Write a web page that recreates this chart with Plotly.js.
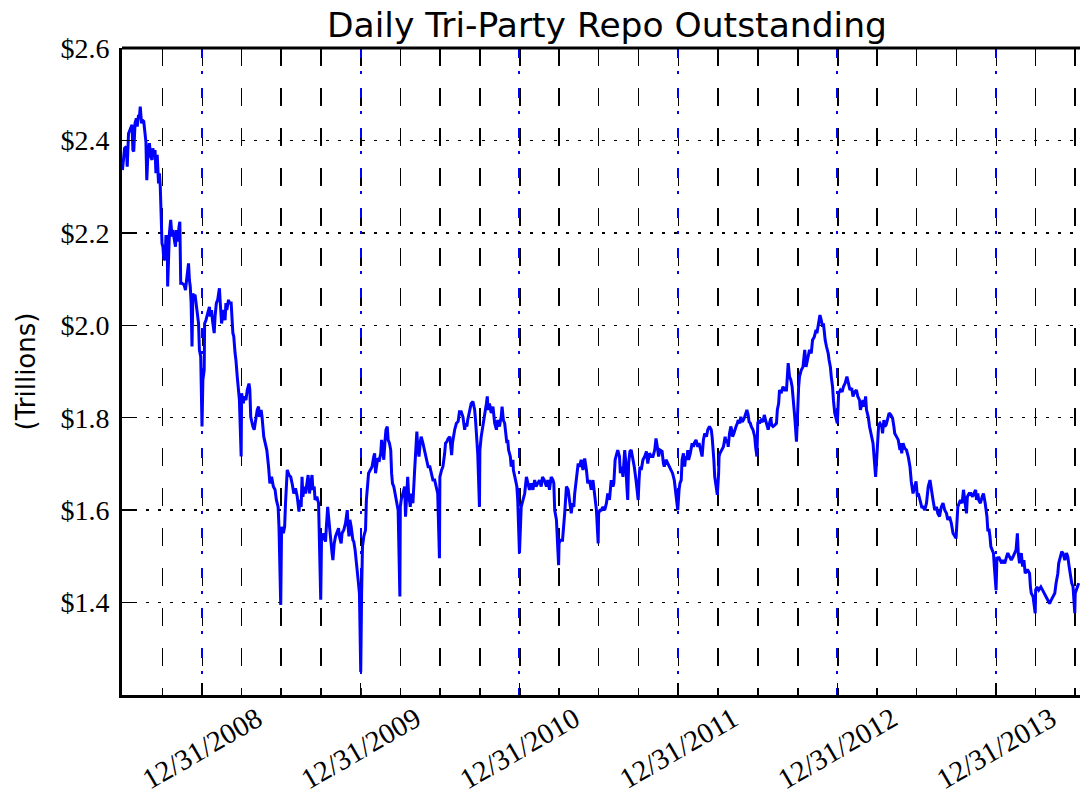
<!DOCTYPE html>
<html>
<head>
<meta charset="utf-8">
<script src="https://cdn.plot.ly/plotly-3.0.1.min.js"></script>
<style>html,body{margin:0;padding:0;background:#fff;}#chart{width:1080px;height:802px;}</style>
</head>
<body>
<div id="chart"></div>
<script>
// Daily tri-party repo outstanding ($ trillions)
const dates = [
'2008-07-01','2008-07-06','2008-07-10','2008-07-12','2008-07-15','2008-07-20','2008-07-23','2008-07-25','2008-07-27','2008-07-30',
'2008-08-02','2008-08-04','2008-08-07','2008-08-09','2008-08-11','2008-08-14','2008-08-16','2008-08-19','2008-08-22','2008-08-24',
'2008-08-26','2008-08-29','2008-09-01','2008-09-04','2008-09-07','2008-09-09','2008-09-11','2008-09-14','2008-09-16','2008-09-19',
'2008-09-22','2008-09-24','2008-09-26','2008-09-30','2008-10-02','2008-10-04','2008-10-07','2008-10-09','2008-10-12','2008-10-13',
'2008-10-17','2008-10-20','2008-10-23','2008-10-25','2008-10-29','2008-10-31','2008-11-02','2008-11-05','2008-11-08','2008-11-10',
'2008-11-12','2008-11-15','2008-11-20','2008-11-23','2008-11-25','2008-11-29','2008-11-30','2008-12-02','2008-12-04','2008-12-06',
'2008-12-08','2008-12-10','2008-12-12','2008-12-15','2008-12-17','2008-12-21','2008-12-23','2008-12-25','2008-12-28','2008-12-31',
'2009-01-02','2009-01-05','2009-01-06','2009-01-09','2009-01-13','2009-01-17','2009-01-19','2009-01-22','2009-01-24','2009-01-28',
'2009-01-30','2009-02-02','2009-02-05','2009-02-09','2009-02-11','2009-02-14','2009-02-16','2009-02-19','2009-02-22','2009-02-24',
'2009-02-26','2009-03-02','2009-03-04','2009-03-08','2009-03-12','2009-03-14','2009-03-17','2009-03-19','2009-03-22','2009-03-25',
'2009-03-27','2009-03-31','2009-04-01','2009-04-05','2009-04-07','2009-04-11','2009-04-14','2009-04-18','2009-04-20','2009-04-22',
'2009-04-25','2009-04-27','2009-04-30','2009-05-02','2009-05-07','2009-05-10','2009-05-12','2009-05-16','2009-05-18','2009-05-22',
'2009-05-25','2009-05-29','2009-06-02','2009-06-05','2009-06-09','2009-06-13','2009-06-17','2009-06-20','2009-06-24','2009-06-26',
'2009-06-30','2009-07-02','2009-07-06','2009-07-09','2009-07-11','2009-07-15','2009-07-19','2009-07-23','2009-07-27','2009-07-30',
'2009-08-03','2009-08-07','2009-08-11','2009-08-13','2009-08-16','2009-08-18','2009-08-20','2009-08-23','2009-08-26','2009-08-30',
'2009-09-01','2009-09-04','2009-09-06','2009-09-10','2009-09-12','2009-09-15','2009-09-17','2009-09-21','2009-09-25','2009-09-30',
'2009-10-02','2009-10-05','2009-10-07','2009-10-11','2009-10-13','2009-10-16','2009-10-18','2009-10-21','2009-10-24','2009-10-26',
'2009-10-28','2009-10-31','2009-11-03','2009-11-06','2009-11-10','2009-11-12','2009-11-16','2009-11-18','2009-11-22','2009-11-26',
'2009-11-28','2009-11-30','2009-12-02','2009-12-04','2009-12-06','2009-12-09','2009-12-13','2009-12-15','2009-12-18','2009-12-21',
'2009-12-25','2009-12-28','2009-12-31','2010-01-02','2010-01-04','2010-01-07','2010-01-11','2010-01-13','2010-01-16','2010-01-18',
'2010-01-22','2010-01-26','2010-01-30','2010-02-01','2010-02-03','2010-02-06','2010-02-08','2010-02-12','2010-02-15','2010-02-17',
'2010-02-19','2010-02-22','2010-02-25','2010-02-27','2010-03-02','2010-03-04','2010-03-07','2010-03-10','2010-03-12','2010-03-14',
'2010-03-17','2010-03-20','2010-03-23','2010-03-25','2010-03-27','2010-03-31','2010-04-01','2010-04-03','2010-04-07','2010-04-11',
'2010-04-13','2010-04-16','2010-04-18','2010-04-20','2010-04-24','2010-04-26','2010-04-30','2010-05-04','2010-05-06','2010-05-09',
'2010-05-11','2010-05-14','2010-05-17','2010-05-19','2010-05-23','2010-05-27','2010-05-31','2010-06-04','2010-06-08','2010-06-12',
'2010-06-15','2010-06-19','2010-06-23','2010-06-26','2010-06-30','2010-07-01','2010-07-05','2010-07-08','2010-07-12','2010-07-14',
'2010-07-17','2010-07-20','2010-07-24','2010-07-28','2010-07-30','2010-08-02','2010-08-04','2010-08-08','2010-08-12','2010-08-15',
'2010-08-19','2010-08-23','2010-08-27','2010-08-29','2010-09-01','2010-09-03','2010-09-07','2010-09-11','2010-09-15','2010-09-19',
'2010-09-21','2010-09-24','2010-09-26','2010-09-30','2010-10-01','2010-10-04','2010-10-08','2010-10-12','2010-10-16','2010-10-18',
'2010-10-20','2010-10-23','2010-10-27','2010-10-31','2010-11-04','2010-11-08','2010-11-11','2010-11-15','2010-11-19','2010-11-21',
'2010-11-24','2010-11-27','2010-11-29','2010-12-02','2010-12-04','2010-12-06','2010-12-10','2010-12-12','2010-12-16','2010-12-17',
'2010-12-22','2010-12-25','2010-12-27','2010-12-31','2011-01-04','2011-01-08','2011-01-12','2011-01-16','2011-01-19','2011-01-23',
'2011-01-27','2011-01-31','2011-02-04','2011-02-07','2011-02-11','2011-02-15','2011-02-19','2011-02-22','2011-02-26','2011-03-03',
'2011-03-06','2011-03-10','2011-03-14','2011-03-18','2011-03-20','2011-03-22','2011-03-26','2011-03-31','2011-04-01','2011-04-04',
'2011-04-09','2011-04-12','2011-04-14','2011-04-18','2011-04-22','2011-04-25','2011-04-29','2011-05-02','2011-05-05','2011-05-07',
'2011-05-11','2011-05-15','2011-05-18','2011-05-22','2011-05-26','2011-05-30','2011-06-03','2011-06-06','2011-06-10','2011-06-14',
'2011-06-18','2011-06-22','2011-06-26','2011-06-30','2011-07-01','2011-07-04','2011-07-07','2011-07-11','2011-07-15','2011-07-19',
'2011-07-22','2011-07-26','2011-07-30','2011-08-03','2011-08-05','2011-08-08','2011-08-11','2011-08-14','2011-08-18','2011-08-20',
'2011-08-23','2011-08-26','2011-08-30','2011-09-01','2011-09-04','2011-09-06','2011-09-08','2011-09-11','2011-09-14','2011-09-17',
'2011-09-21','2011-09-25','2011-09-30','2011-10-02','2011-10-04','2011-10-07','2011-10-11','2011-10-15','2011-10-19','2011-10-22',
'2011-10-26','2011-10-30','2011-11-03','2011-11-07','2011-11-10','2011-11-13','2011-11-16','2011-11-19','2011-11-24','2011-11-27',
'2011-11-29','2011-12-03','2011-12-07','2011-12-11','2011-12-14','2011-12-18','2011-12-22','2011-12-30','2012-01-02','2012-01-04',
'2012-01-07','2012-01-09','2012-01-12','2012-01-15','2012-01-17','2012-01-20','2012-01-22','2012-01-24','2012-01-28','2012-01-30',
'2012-02-01','2012-02-04','2012-02-06','2012-02-10','2012-02-14','2012-02-17','2012-02-21','2012-02-24','2012-02-27','2012-03-01',
'2012-03-05','2012-03-08','2012-03-12','2012-03-16','2012-03-18','2012-03-20','2012-03-22','2012-03-24','2012-03-30','2012-04-02',
'2012-04-03','2012-04-05','2012-04-09','2012-04-13','2012-04-17','2012-04-19','2012-04-22','2012-04-24','2012-04-27','2012-04-30',
'2012-05-02','2012-05-04','2012-05-07','2012-05-09','2012-05-12','2012-05-15','2012-05-17','2012-05-21','2012-05-23','2012-05-26',
'2012-05-29','2012-06-01','2012-06-03','2012-06-06','2012-06-09','2012-06-11','2012-06-14','2012-06-16','2012-06-20','2012-06-24',
'2012-06-26','2012-06-29','2012-07-01','2012-07-03','2012-07-05','2012-07-09','2012-07-13','2012-07-16','2012-07-19','2012-07-22',
'2012-07-25','2012-07-28','2012-07-31','2012-08-02','2012-08-05','2012-08-09','2012-08-13','2012-08-15','2012-08-18','2012-08-20',
'2012-08-24','2012-08-28','2012-09-01','2012-09-05','2012-09-07','2012-09-09','2012-09-12','2012-09-15','2012-09-18','2012-09-21',
'2012-09-24','2012-09-28','2012-10-01','2012-10-03','2012-10-05','2012-10-09','2012-10-13','2012-10-15','2012-10-17','2012-10-20',
'2012-10-24','2012-10-28','2012-11-01','2012-11-04','2012-11-08','2012-11-12','2012-11-14','2012-11-16','2012-11-19','2012-11-21',
'2012-11-24','2012-11-27','2012-11-29','2012-12-01','2012-12-03','2012-12-06','2012-12-08','2012-12-10','2012-12-12','2012-12-15',
'2012-12-17','2012-12-20','2012-12-22','2012-12-25','2012-12-31','2013-01-02','2013-01-03','2013-01-07','2013-01-11','2013-01-14',
'2013-01-18','2013-01-22','2013-01-24','2013-01-27','2013-01-29','2013-02-02','2013-02-05','2013-02-09','2013-02-13','2013-02-16',
'2013-02-20','2013-02-22','2013-02-25','2013-02-28','2013-03-03','2013-03-06','2013-03-08','2013-03-12','2013-03-15','2013-03-19',
'2013-03-23','2013-03-29','2013-04-01','2013-04-03','2013-04-05','2013-04-08','2013-04-12','2013-04-14','2013-04-17','2013-04-19',
'2013-04-22','2013-04-25','2013-04-29','2013-05-03','2013-05-07','2013-05-10','2013-05-12','2013-05-16','2013-05-20','2013-05-24',
'2013-05-26','2013-05-28','2013-05-31','2013-06-04','2013-06-08','2013-06-12','2013-06-16','2013-06-19','2013-06-23','2013-06-27',
'2013-06-30','2013-07-03','2013-07-05','2013-07-09','2013-07-13','2013-07-16','2013-07-20','2013-07-24','2013-07-28','2013-08-01',
'2013-08-03','2013-08-05','2013-08-08','2013-08-12','2013-08-16','2013-08-19','2013-08-23','2013-08-27','2013-08-31','2013-09-04',
'2013-09-08','2013-09-11','2013-09-15','2013-09-19','2013-09-23','2013-09-30','2013-10-01','2013-10-02','2013-10-04','2013-10-07',
'2013-10-10','2013-10-14','2013-10-17','2013-10-20','2013-10-24','2013-10-26','2013-10-30','2013-11-03','2013-11-07','2013-11-10',
'2013-11-14','2013-11-16','2013-11-19','2013-11-21','2013-11-25','2013-11-29','2013-12-02','2013-12-06','2013-12-10','2013-12-12',
'2013-12-15','2013-12-17','2013-12-19','2013-12-22','2013-12-25','2013-12-27','2013-12-31','2014-01-02','2014-01-03','2014-01-06',
'2014-01-09','2014-01-13','2014-01-16','2014-01-20','2014-01-24','2014-01-27','2014-01-31','2014-02-04','2014-02-08','2014-02-12',
'2014-02-15','2014-02-18','2014-02-20','2014-02-23','2014-02-27','2014-03-02','2014-03-05','2014-03-08','2014-03-11','2014-03-14',
'2014-03-18','2014-03-20','2014-03-22','2014-03-26','2014-03-31','2014-04-01','2014-04-04','2014-04-08','2014-04-13','2014-04-17',
'2014-04-21','2014-04-25','2014-04-29','2014-05-03','2014-05-07','2014-05-11','2014-05-15','2014-05-18','2014-05-22','2014-05-24',
'2014-05-28','2014-05-31','2014-06-03','2014-06-07','2014-06-11','2014-06-14','2014-06-17','2014-06-20','2014-06-23','2014-06-26',
'2014-06-30','2014-07-01','2014-07-05','2014-07-09'
];
const outstanding = [
2.336,2.383,2.387,2.343,2.415,2.430,2.434,2.379,2.376,2.437,
2.448,2.430,2.455,2.451,2.473,2.437,2.444,2.441,2.401,2.397,
2.314,2.379,2.394,2.365,2.358,2.383,2.369,2.379,2.329,2.369,
2.307,2.329,2.300,2.177,2.170,2.145,2.141,2.192,2.192,2.084,
2.199,2.228,2.192,2.206,2.181,2.170,2.206,2.181,2.213,2.224,
2.091,2.091,2.087,2.076,2.094,2.120,2.134,2.098,2.084,2.048,
1.954,2.069,2.062,2.066,2.048,2.019,2.004,1.947,1.932,1.781,
1.882,1.903,2.004,2.011,2.026,2.040,2.019,2.033,2.011,1.983,
2.019,2.048,2.055,2.080,2.048,2.004,2.019,2.033,2.011,2.048,
2.033,2.055,2.048,2.048,1.983,1.976,1.940,1.925,1.889,1.860,
1.838,1.716,1.853,1.831,1.846,1.838,1.860,1.874,1.860,1.802,
1.788,1.781,1.774,1.788,1.817,1.824,1.802,1.817,1.802,1.759,
1.745,1.730,1.694,1.658,1.672,1.651,1.644,1.622,1.607,1.564,
1.395,1.564,1.550,1.564,1.615,1.687,1.676,1.672,1.654,1.636,
1.647,1.629,1.597,1.622,1.607,1.672,1.629,1.651,1.636,1.658,
1.676,1.636,1.651,1.676,1.644,1.651,1.622,1.629,1.615,1.406,
1.550,1.535,1.550,1.532,1.564,1.607,1.586,1.550,1.521,1.507,
1.492,1.528,1.543,1.550,1.561,1.543,1.528,1.550,1.557,1.572,
1.593,1.600,1.564,1.543,1.579,1.564,1.535,1.532,1.514,1.478,
1.449,1.420,1.250,1.420,1.521,1.543,1.557,1.622,1.658,1.680,
1.687,1.694,1.716,1.723,1.680,1.709,1.712,1.709,1.723,1.752,
1.737,1.709,1.752,1.774,1.781,1.752,1.745,1.730,1.680,1.658,
1.651,1.636,1.622,1.607,1.600,1.413,1.607,1.622,1.636,1.651,
1.586,1.644,1.672,1.636,1.607,1.636,1.615,1.687,1.737,1.770,
1.737,1.716,1.748,1.759,1.745,1.730,1.709,1.694,1.694,1.680,
1.665,1.665,1.651,1.636,1.496,1.672,1.687,1.694,1.723,1.745,
1.748,1.755,1.759,1.719,1.745,1.766,1.774,1.788,1.792,1.813,
1.813,1.802,1.774,1.788,1.781,1.795,1.810,1.831,1.835,1.817,
1.795,1.759,1.723,1.607,1.730,1.759,1.781,1.810,1.831,1.846,
1.817,1.831,1.810,1.824,1.788,1.774,1.795,1.781,1.802,1.824,
1.795,1.788,1.766,1.745,1.752,1.730,1.716,1.694,1.709,1.687,
1.665,1.651,1.622,1.507,1.607,1.622,1.636,1.672,1.658,1.644,
1.658,1.644,1.665,1.651,1.658,1.665,1.651,1.672,1.665,1.651,
1.665,1.644,1.672,1.665,1.658,1.600,1.579,1.481,1.528,1.535,
1.535,1.564,1.593,1.651,1.644,1.622,1.593,1.615,1.607,1.636,
1.665,1.701,1.694,1.709,1.687,1.712,1.687,1.658,1.665,1.644,
1.665,1.636,1.600,1.528,1.593,1.600,1.600,1.607,1.600,1.615,
1.636,1.622,1.665,1.651,1.658,1.709,1.723,1.730,1.716,1.680,
1.694,1.672,1.730,1.709,1.651,1.622,1.701,1.727,1.730,1.716,
1.694,1.665,1.622,1.665,1.694,1.687,1.709,1.716,1.727,1.701,
1.723,1.716,1.716,1.730,1.755,1.737,1.716,1.730,1.727,1.701,
1.694,1.709,1.701,1.694,1.687,1.680,1.665,1.600,1.644,1.658,
1.665,1.709,1.723,1.694,1.716,1.709,1.730,1.709,1.723,1.737,
1.745,1.737,1.745,1.752,1.737,1.745,1.730,1.716,1.752,1.766,
1.759,1.774,1.781,1.774,1.759,1.737,1.709,1.672,1.633,1.680,
1.716,1.723,1.730,1.737,1.759,1.745,1.752,1.737,1.766,1.781,
1.774,1.759,1.766,1.774,1.781,1.788,1.795,1.788,1.802,1.791,
1.795,1.802,1.810,1.817,1.806,1.791,1.788,1.781,1.774,1.759,
1.737,1.716,1.788,1.795,1.788,1.795,1.791,1.806,1.795,1.781,
1.774,1.788,1.799,1.784,1.781,1.784,1.788,1.817,1.831,1.860,
1.853,1.867,1.860,1.860,1.882,1.918,1.889,1.882,1.867,1.838,
1.802,1.748,1.831,1.867,1.889,1.903,1.910,1.932,1.947,1.910,
1.932,1.947,1.939,1.968,1.975,1.990,1.983,1.997,2.019,2.022,
2.011,1.997,2.004,1.983,1.968,1.954,1.947,1.939,1.925,1.910,
1.889,1.867,1.838,1.810,1.788,1.838,1.853,1.860,1.856,1.867,
1.875,1.889,1.878,1.867,1.860,1.864,1.846,1.856,1.860,1.846,
1.838,1.817,1.831,1.838,1.824,1.846,1.817,1.802,1.781,1.766,
1.745,1.672,1.730,1.759,1.784,1.788,1.781,1.766,1.795,1.781,
1.784,1.795,1.810,1.806,1.799,1.781,1.766,1.759,1.752,1.730,
1.745,1.723,1.745,1.734,1.730,1.716,1.694,1.662,1.636,1.651,
1.662,1.629,1.636,1.622,1.607,1.607,1.600,1.615,1.651,1.665,
1.651,1.636,1.622,1.600,1.607,1.593,1.586,1.607,1.615,1.600,
1.593,1.579,1.586,1.572,1.550,1.539,1.557,1.593,1.607,1.615,
1.622,1.615,1.644,1.622,1.593,1.629,1.636,1.636,1.629,1.636,
1.644,1.622,1.636,1.622,1.615,1.629,1.636,1.615,1.586,1.557,
1.557,1.543,1.521,1.514,1.507,1.478,1.427,1.499,1.492,1.499,
1.492,1.485,1.492,1.485,1.499,1.507,1.499,1.492,1.499,1.507,
1.514,1.550,1.507,1.485,1.507,1.478,1.492,1.463,1.470,1.470,
1.463,1.434,1.420,1.413,1.377,1.427,1.434,1.427,1.434,1.427,
1.420,1.413,1.406,1.398,1.406,1.413,1.420,1.442,1.463,1.485,
1.499,1.510,1.507,1.492,1.507,1.499,1.478,1.456,1.442,1.434,
1.377,1.420,1.434,1.442
];
const yearEnds = ['2008-12-31','2009-12-31','2010-12-31','2011-12-31','2012-12-31','2013-12-31'];
const yearLabels = ['12/31/2008','12/31/2009','12/31/2010','12/31/2011','12/31/2012','12/31/2013'];
const yTicks = [1.4, 1.6, 1.8, 2.0, 2.2, 2.4, 2.6];
const yTickLabels = ['$1.4','$1.6','$1.8','$2.0','$2.2','$2.4','$2.6'];

const serif = 'Liberation Serif, DejaVu Serif, serif';
const sans = 'DejaVu Sans, sans-serif';

const trace = {
  x: dates, y: outstanding, type: 'scatter', mode: 'lines',
  line: {color: '#0000ff', width: 3}, hoverinfo: 'x+y'
};

const layout = {
  width: 1080, height: 802,
  margin: {l: 122, r: 0, t: 48, b: 107, pad: 0},
  paper_bgcolor: '#ffffff', plot_bgcolor: '#ffffff',
  showlegend: false,
  title: {
    text: 'Daily Tri-Party Repo Outstanding',
    font: {family: sans, size: 34.5, color: '#000'},
    xref: 'container', x: 0.562, xanchor: 'center',
    yref: 'container', y: 0.969, yanchor: 'middle'
  },
  xaxis: {
    type: 'date', range: ['2008-06-30', '2014-07-12'],
    tickmode: 'array', tickvals: yearEnds, ticktext: yearLabels,
    tickangle: -30, ticklabelshift: 55, ticklabelstandoff: -7,
    tickfont: {family: serif, size: 29, color: '#000'},
    ticks: 'inside', ticklen: 12, tickwidth: 1.5, tickcolor: '#000',
    showline: true, linewidth: 3, linecolor: '#000',
    showgrid: true, gridcolor: '#0000ff', gridwidth: 2, griddash: '10px,13px,3px,14px',
    minor: {dtick: 'M3', tick0: '2008-07-01', showgrid: true, gridcolor: '#000', gridwidth: 1.5, griddash: '18px,22px'},
    zeroline: false, fixedrange: true
  },
  yaxis: {
    range: [1.2, 2.6],
    tickmode: 'array', tickvals: yTicks, ticktext: yTickLabels,
    tickfont: {family: serif, size: 28, color: '#000'},
    ticks: 'inside', ticklen: 12, tickwidth: 1.5, tickcolor: '#000',
    ticklabelstandoff: 4,
    showline: true, linewidth: 3, linecolor: '#000',
    showgrid: true, gridcolor: '#000', gridwidth: 1.5, griddash: '3px,9px',
    zeroline: false, fixedrange: true,
    title: {text: '(Trillions)', font: {family: sans, size: 26, color: '#000'}, standoff: 18}
  },
  shapes: [
    {type: 'line', xref: 'paper', yref: 'paper', x0: 0, x1: 1, y0: 1, y1: 1, line: {color: '#000', width: 3}}
  ]
};

Plotly.newPlot('chart', [trace], layout, {displayModeBar: false, staticPlot: true});
</script>
</body>
</html>
